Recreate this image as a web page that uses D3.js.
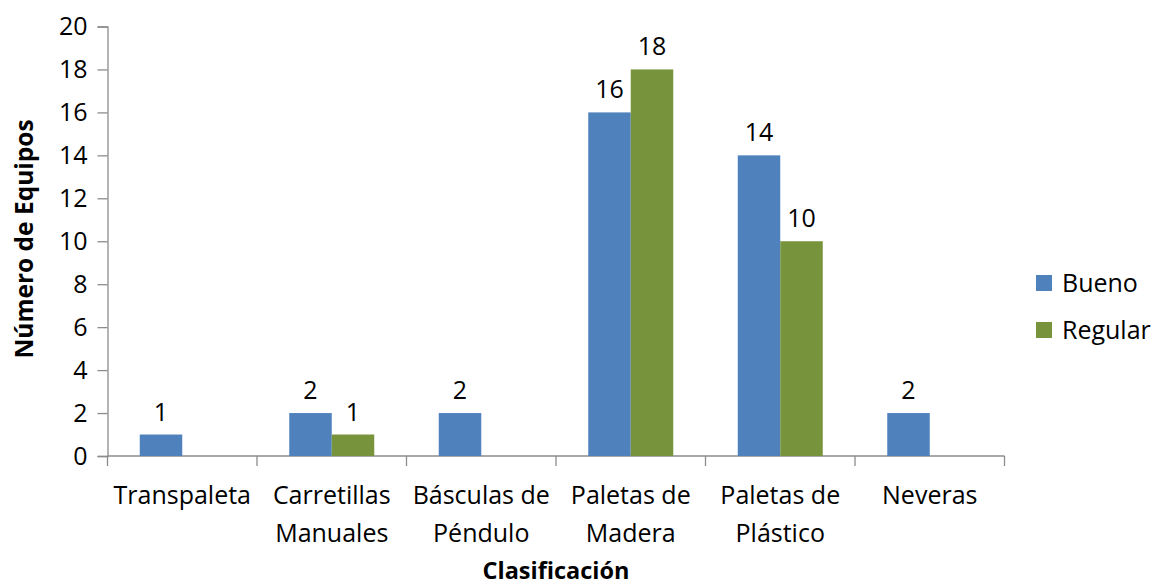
<!DOCTYPE html>
<html>
<head>
<meta charset="utf-8">
<script src="https://cdn.jsdelivr.net/npm/d3@7"></script>
<style>
  html, body { margin: 0; padding: 0; background: #fff; }
  svg text { font-family: "Open Sans", Lato, sans-serif; fill: #000; }
</style>
</head>
<body>
<svg id="chart" width="1158" height="586"></svg>
<script>
// Equipment counts by classification and condition
const categories = [
  ["Transpaleta"],
  ["Carretillas", "Manuales"],
  ["Básculas de", "Péndulo"],
  ["Paletas de", "Madera"],
  ["Paletas de", "Plástico"],
  ["Neveras"]
];
const seriesNames = ["Bueno", "Regular"];
const bueno   = [1, 2, 2, 16, 14, 2];
const regular = [null, 1, null, 18, 10, null];
const yTicks  = [0, 2, 4, 6, 8, 10, 12, 14, 16, 18, 20];
const colors  = ["#4F81BD", "#77933C"];

const svg = d3.select("#chart");
const plotLeft = 107.5, plotRight = 1004.5, plotTop = 26.5, plotBottom = 456;
const axisColor = "#8c8c8c";
const fontSize = 25;

const x = d3.scaleBand()
  .domain(d3.range(categories.length))
  .range([plotLeft, plotRight])
  .paddingInner(0).paddingOuter(0);

const y = d3.scaleLinear().domain([0, 20]).range([plotBottom, plotTop]);

const inner = d3.scaleBand()
  .domain(seriesNames)
  .range([0, x.bandwidth()])
  .paddingInner(0)
  .paddingOuter(0.759);

// Y axis
const yAxis = svg.append("g")
  .attr("transform", `translate(${plotLeft},0)`)
  .call(d3.axisLeft(y).tickValues(yTicks).tickSize(10).tickPadding(10).tickFormat(d3.format("d")));
yAxis.select(".domain").attr("stroke", axisColor).attr("stroke-width", 1.3);
yAxis.selectAll(".tick line").attr("stroke", axisColor).attr("stroke-width", 1.3);
yAxis.selectAll(".tick text").attr("font-size", fontSize).attr("font-family", "'Open Sans', sans-serif").attr("fill", "#000");

// X axis line and category separators
svg.append("line")
  .attr("x1", plotLeft).attr("x2", plotRight).attr("y1", plotBottom).attr("y2", plotBottom)
  .attr("stroke", axisColor).attr("stroke-width", 1.3);
const seps = d3.range(categories.length + 1).map(i => i < categories.length ? x(i) : x(i - 1) + x.bandwidth());
svg.selectAll(".sep").data(seps).enter().append("line")
  .attr("x1", d => d).attr("x2", d => d)
  .attr("y1", plotBottom).attr("y2", plotBottom + 10)
  .attr("stroke", axisColor).attr("stroke-width", 1.3);

// Category labels
const catG = svg.selectAll(".cat").data(categories).enter().append("text")
  .attr("text-anchor", "middle")
  .attr("font-size", fontSize)
  .attr("transform", (d, i) => `translate(${x(i) + x.bandwidth() / 2},504)`);
catG.selectAll("tspan").data(d => d).enter().append("tspan")
  .attr("x", 0).attr("dy", (d, i) => i === 0 ? 0 : 37.5)
  .text(d => d);

// Bars
const series = [bueno, regular];
series.forEach((vals, s) => {
  const g = svg.append("g");
  const data = vals.map((v, i) => ({ v, i })).filter(d => d.v != null);
  g.selectAll("rect").data(data).enter().append("rect")
    .attr("x", d => x(d.i) + inner(seriesNames[s]))
    .attr("width", inner.bandwidth())
    .attr("y", d => y(d.v))
    .attr("height", d => y(0) - y(d.v))
    .attr("fill", colors[s]);
  g.selectAll("text").data(data).enter().append("text")
    .attr("x", d => x(d.i) + inner(seriesNames[s]) + inner.bandwidth() / 2)
    .attr("y", d => y(d.v) - 14)
    .attr("text-anchor", "middle")
    .attr("font-size", fontSize)
    .text(d => d.v);
});

// Axis titles
svg.append("text")
  .attr("x", 556).attr("y", 579)
  .attr("text-anchor", "middle")
  .attr("font-size", 23.5).attr("font-weight", "bold")
  .text("Clasificación");
svg.append("text")
  .attr("transform", "translate(33,239) rotate(-90)")
  .attr("text-anchor", "middle")
  .attr("font-size", 24.5).attr("font-weight", "bold")
  .text("Número de Equipos");

// Legend
const legend = svg.append("g");
seriesNames.forEach((name, s) => {
  const ly = 283 + s * 47;
  legend.append("rect")
    .attr("x", 1036).attr("y", ly - 8).attr("width", 16).attr("height", 16)
    .attr("fill", colors[s]);
  legend.append("text")
    .attr("x", 1062).attr("y", ly + 9)
    .attr("font-size", fontSize)
    .text(name);
});
</script>
</body>
</html>
